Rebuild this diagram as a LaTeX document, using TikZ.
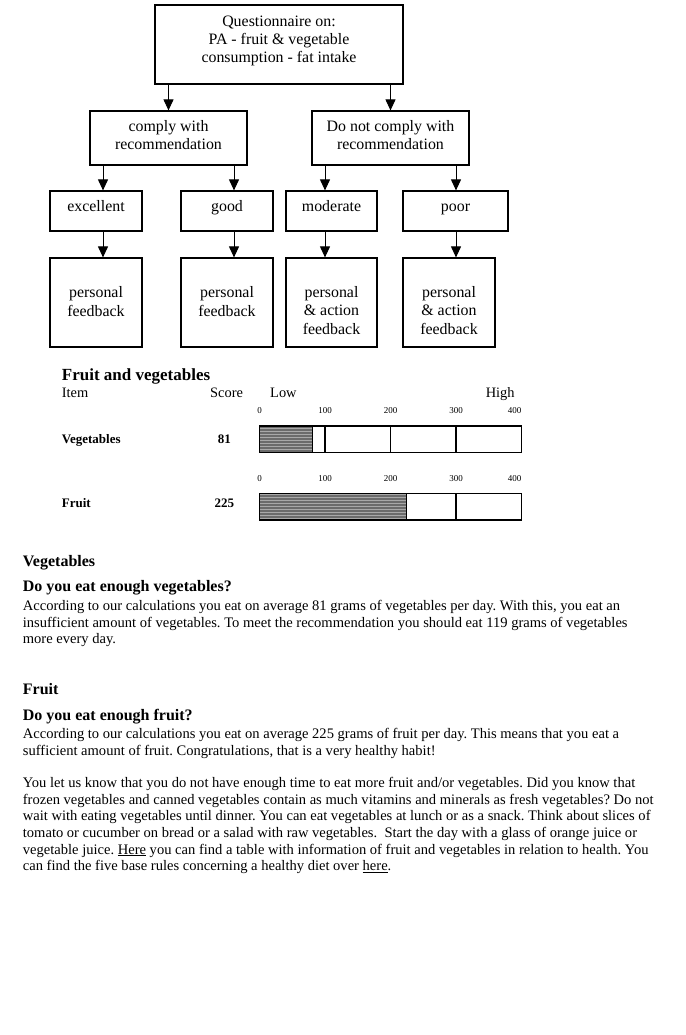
\documentclass[tikz,border=0pt]{standalone}
\usepackage{fontspec}
\setmainfont{Liberation Serif}
\usepackage{xcolor}
\definecolor{barfill}{rgb}{0.42,0.42,0.42}
\definecolor{barline}{rgb}{0.66,0.66,0.66}
\usepackage{tikz}
\usetikzlibrary{arrows.meta,positioning,patterns}
\frenchspacing
\tikzset{
  >={Triangle[length=11pt,width=10pt]},
  box/.style={rectangle,draw,line width=1.2pt,align=center,inner sep=0pt,font=\fontsize{15.9}{18.3}\selectfont,text depth=4pt},
  levelbox/.style={box,minimum height=40pt,text height=11pt,text depth=9.6pt},
  fbbox/.style={box,minimum height=89pt,text height=31pt},
  actbox/.style={box,minimum height=89pt,text height=67pt},
  edge/.style={->,line width=1pt},
  barbox/.style={draw,line width=1.2pt},
  scalenum/.style={font=\fontsize{9}{10}\selectfont,anchor=base,inner sep=0pt},
  rowlabel/.style={font=\fontsize{13}{15}\selectfont\bfseries,anchor=base west,inner sep=0pt},
  colhead/.style={font=\fontsize{14.4}{16.6}\selectfont,anchor=base west,inner sep=0pt},
  heading/.style={font=\fontsize{16}{18}\selectfont\bfseries,anchor=base west,inner sep=0pt},
  para/.style={font=\fontsize{14.55}{16.6}\selectfont,align=left,anchor=base west,inner sep=0pt}
}

\begin{document}
\begin{tikzpicture}[x=1pt,y=-1pt]
  \fill[white] (0,0) rectangle (685,1035);
  \useasboundingbox (0,0) rectangle (685,1035);

  % Questionnaire and the two outcomes
  \node[box,minimum width=248pt,minimum height=79pt,text height=40.4pt] (quest) at (279,44.5) {Questionnaire on:\\PA - fruit \& vegetable\\consumption - fat intake};
  \node[box,minimum width=157pt,minimum height=54pt,text height=28pt] (comply) at (168.5,138) {comply with\\recommendation};
  \node[box,minimum width=157pt,minimum height=54pt,text height=28pt] (nocomply) at (390.5,138) {Do not comply with\\recommendation};

  % Four levels
  \node[levelbox,minimum width=92pt] (exc) at (96,211) {excellent};
  \node[levelbox,minimum width=92pt] (good) at (227,211) {good};
  \node[levelbox,minimum width=91pt] (mod) at (331.5,211) {moderate};
  \node[levelbox,minimum width=105pt] (poor) at (455.5,211) {poor};

  % Feedback
  \node[fbbox,minimum width=92pt] (excfb) at (96,302.5) {personal\\feedback};
  \node[fbbox,minimum width=92pt] (goodfb) at (227,302.5) {personal\\feedback};
  \node[actbox,minimum width=91pt] (modfb) at (331.5,302.5) {personal\\\& action\\feedback};
  \node[actbox,minimum width=92pt] (poorfb) at (449,302.5) {personal\\\& action\\feedback};

  % Arrows
  \coordinate (c1) at (103,0);
  \coordinate (c2) at (234,0);
  \coordinate (c3) at (325,0);
  \coordinate (c4) at (456,0);
  \draw[edge] (quest.south -| comply) -- (comply.north);
  \draw[edge] (quest.south -| nocomply) -- (nocomply.north);
  \draw[edge] (comply.south -| c1) -- (exc.north -| c1);
  \draw[edge] (comply.south -| c2) -- (good.north -| c2);
  \draw[edge] (nocomply.south -| c3) -- (mod.north -| c3);
  \draw[edge] (nocomply.south -| c4) -- (poor.north -| c4);
  \draw[edge] (exc.south -| c1) -- (excfb.north -| c1);
  \draw[edge] (good.south -| c2) -- (goodfb.north -| c2);
  \draw[edge] (mod.south -| c3) -- (modfb.north -| c3);
  \draw[edge] (poor.south -| c4) -- (poorfb.north -| c4);

  % Score chart
  \node[heading,font=\fontsize{17}{19}\selectfont\bfseries] (fvhead) at (61.7,380.7) {Fruit and vegetables};
  \node[colhead] (itemhd) at (61.7,397.3) {Item};
  \node[colhead] (scorehd) at (210,397.3) {Score};
  \node[colhead] (lowhd) at (270,397.3) {Low};
  \node[colhead] (highhd) at (485.6,397.3) {High};

  \foreach \nm/\yb/\yt/\val/\lab in {veg/426/443.3/81/Vegetables, fru/493.3/507.3/225/Fruit}{
    \node[rowlabel] (\nm-lab) at (61.7,\yt) {\lab};
    \node[rowlabel,anchor=base] (\nm-score) at (224.3,\yt) {\val};
    \begin{scope}[shift={(259.5,\yb)},x=0.655pt]
      \draw[barbox] (0,0) rectangle (400,26.7);
      \foreach \t in {100,200,300}
        \draw[barbox] (\t,0) -- (\t,26.7);
      \fill[barfill] (0,0) rectangle (\val,26.7);
      \fill[pattern=horizontal lines,pattern color=barline] (0,0) rectangle (\val,26.7);
      \draw[barbox] (0,0) rectangle (\val,26.7);
      \foreach \t in {0,100,200,300}
        \node[scalenum] (\nm-s\t) at (\t,-12.3) {\t};
      \node[scalenum,anchor=base east] (\nm-s400) at (400,-12.3) {400};
    \end{scope}
  }

  % Feedback text
  \node[heading] (veghd) at (22.7,566) {Vegetables};
  \node[heading] (vegq) at (22.7,591.7) {Do you eat enough vegetables?};
  \node[para] (vegtxt) at (22.7,643.6) {According to our calculations you eat on average 81 grams of vegetables per day. With this, you eat an\\
    insufficient amount of vegetables. To meet the recommendation you should eat 119 grams of vegetables\\
    more every day.};

  \node[heading] (fruhd) at (22.7,694.3) {Fruit};
  \node[heading] (fruq) at (22.7,720.7) {Do you eat enough fruit?};
  \node[para] (frutxt) at (22.7,755) {According to our calculations you eat on average 225 grams of fruit per day. This means that you eat a\\
    sufficient amount of fruit. Congratulations, that is a very healthy habit!};

  \node[para] (tiptxt) at (22.7,870.7) {You let us know that you do not have enough time to eat more fruit and/or vegetables. Did you know that\\
    frozen vegetables and canned vegetables contain as much vitamins and minerals as fresh vegetables? Do not\\
    wait with eating vegetables until dinner. You can eat vegetables at lunch or as a snack. Think about slices of\\
    tomato or cucumber on bread or a salad with raw vegetables.\ \ Start the day with a glass of orange juice or\\
    vegetable juice. \underline{Here} you can find a table with information of fruit and vegetables in relation to health. You\\
    can find the five base rules concerning a healthy diet over \underline{here}.};
\end{tikzpicture}
\end{document}
